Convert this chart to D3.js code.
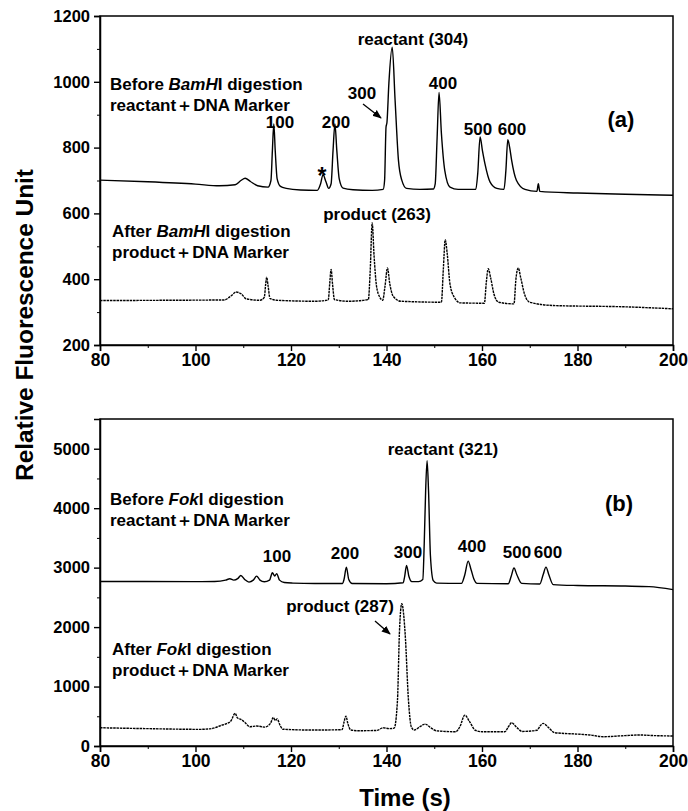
<!DOCTYPE html>
<html>
<head>
<meta charset="utf-8">
<script src="https://cdn.jsdelivr.net/npm/d3@7"></script>
<style>
body { margin: 0; background: #fff; }
svg text { font-family: "Liberation Sans", Arial, sans-serif; font-weight: bold; fill: #000; }
</style>
</head>
<body>
<div id="plot"></div>
<script>
// ticks
var xTicks = [80, 100, 120, 140, 160, 180, 200];
var xMinor = [90, 110, 130, 150, 170, 190];
var yTicksA = [200, 400, 600, 800, 1000, 1200];
var yMinorA = [300, 500, 700, 900, 1100];
var yTicksB = [0, 1000, 2000, 3000, 4000, 5000];
var yMinorB = [500, 1500, 2500, 3500, 4500];

// electropherograms, [time (s), fluorescence]
var beforeBamHI = [[80,701],[90,696],[100,689],[105,684],[108.3,687],[109.5,700],[110.4,707],[111.5,697],[113,684],[115.2,680],[115.8,700],[116.1,790],[116.4,872],[116.7,790],[117.1,705],[117.8,682],[119,676],[122,671],[125.5,670],[126.2,690],[126.7,718],[127.3,697],[127.9,676],[128.4,690],[128.8,790],[129.2,872],[129.6,790],[130.1,705],[130.9,677],[133,672],[137,670],[139.3,673],[139.6,700],[139.9,862],[140.1,877],[140.5,996],[141.2,1105],[141.8,944],[142.5,762],[143.2,701],[144.2,676],[147,673],[149.8,674],[150.2,690],[150.6,830],[151,968],[151.5,843],[152.2,731],[153.3,680],[155,673],[158.7,673],[159.1,720],[159.6,832],[160.1,790],[160.6,752],[161.7,695],[163.1,676],[164.6,673],[165,730],[165.4,824],[165.8,800],[166.2,762],[167.2,701],[169,673],[171.5,667],[171.8,690],[172.1,667],[180,662],[190,658],[200,655]];

var afterBamHI = [[80,335],[95,336],[106,337],[107.5,350],[108.5,361],[109.5,356],[110.7,340],[113.5,336],[114.4,345],[114.7,385],[114.9,406],[115.2,380],[115.6,342],[117,336],[125,333],[127.8,337],[128.1,385],[128.4,430],[128.7,385],[129.1,338],[132,333],[136.2,338],[136.6,430],[137,571],[137.4,470],[137.9,380],[138.6,345],[139.2,336],[139.7,380],[140.2,434],[140.7,385],[141.4,348],[143,333],[151.5,330],[151.9,430],[152.3,520],[152.7,480],[153.3,385],[154.2,345],[155.5,328],[160.5,327],[160.9,390],[161.3,432],[161.8,405],[162.5,355],[163.5,330],[166.7,325],[167.1,400],[167.6,434],[168.1,405],[168.9,355],[170,330],[175,320],[190,316],[200,310]];

var beforeFokI = [[80,2768],[100,2765],[104,2768],[106.3,2790],[107.2,2813],[108,2790],[108.9,2820],[109.5,2869],[110.3,2800],[111.2,2757],[112.1,2790],[112.8,2857],[113.5,2790],[114.4,2762],[115.5,2790],[116.1,2914],[116.6,2860],[117,2900],[117.6,2790],[118.6,2750],[120.4,2740],[125,2732],[130.8,2732],[131.1,2800],[131.6,3008],[132.1,2800],[132.8,2733],[140,2730],[143.5,2745],[143.8,2850],[144.2,3037],[144.7,2850],[145.3,2765],[146.7,2765],[147.6,2800],[147.9,3400],[148.2,4300],[148.5,4799],[148.8,4300],[149.2,3200],[149.8,2780],[150.5,2740],[155.7,2735],[156.4,2880],[157.1,3110],[157.7,2970],[158.3,2810],[159,2735],[165.5,2730],[166.1,2850],[166.7,2993],[167.3,2880],[168.3,2735],[172.1,2725],[172.8,2880],[173.4,3008],[174,2880],[174.9,2715],[180,2700],[190,2690],[195,2680],[200,2630]];

var afterFokI = [[80,307],[90,292],[100.9,280],[103.5,295],[105.5,350],[106.5,375],[107.4,420],[108.3,549],[108.8,470],[109.5,448],[110.3,400],[111.4,324],[112.8,336],[114.5,318],[115.7,380],[116.3,481],[116.7,430],[117.1,455],[117.7,350],[118.3,282],[125,268],[130.7,275],[131.1,400],[131.5,503],[131.9,380],[132.5,270],[134,257],[138,262],[139.3,307],[140.5,292],[141.6,300],[142.3,770],[142.7,1895],[143.2,2394],[143.9,1895],[144.6,770],[145.2,320],[145.8,268],[147.1,330],[148.1,369],[149.2,310],[150.5,255],[154.5,240],[155.4,330],[156.4,520],[157.4,410],[158.6,265],[160,240],[164.8,240],[165.5,320],[166.2,391],[167.3,310],[168.4,245],[171.5,265],[172.2,340],[172.8,381],[173.8,320],[175.2,225],[180,200],[182.6,185],[185.4,156],[190,175],[193.1,185],[196,175],[200,168]];

var svg = d3.select("div#plot")
  .append("svg")
  .attr("width", 688)
  .attr("height", 811);

var x = d3.scaleLinear().domain([80, 200]).range([100, 673]);
var yA = d3.scaleLinear().domain([200, 1200]).range([345, 16]);
var yB = d3.scaleLinear().domain([0, 5500]).range([746, 419]);

svg.append("defs").append("marker")
  .attr("id", "arrow")
  .attr("viewBox", "0 0 10 10")
  .attr("refX", 9).attr("refY", 5)
  .attr("markerWidth", 7).attr("markerHeight", 7)
  .attr("orient", "auto")
  .append("path")
  .attr("d", "M0,1 L10,5 L0,9 Z")
  .attr("fill", "#000");

function styleAxis(g) {
  g.select(".domain").attr("stroke-width", 1.5);
  g.selectAll(".tick line").attr("stroke-width", 1.4);
  g.selectAll(".tick text").style("font-size", "16.5px");
}

function drawPanel(y, majors, minors) {
  var bottom = y.range()[0], top = y.range()[1];

  svg.append("g")
    .attr("transform", `translate(0, ${bottom})`)
    .call(d3.axisBottom(x).tickValues(xTicks).tickSize(6).tickPadding(3).tickFormat(d3.format("d")))
    .call(styleAxis)
    .call(g => g.selectAll(".tick text").style("font-size", "17.5px"));
  svg.append("g")
    .attr("transform", `translate(0, ${bottom})`)
    .call(d3.axisBottom(x).tickValues(xMinor).tickSize(3).tickFormat(""))
    .call(g => g.select(".domain").remove());

  svg.append("g")
    .attr("transform", "translate(100, 0)")
    .call(d3.axisLeft(y).tickValues(majors).tickSize(6).tickPadding(4).tickFormat(d3.format("d")))
    .call(styleAxis);
  svg.append("g")
    .attr("transform", "translate(100, 0)")
    .call(d3.axisLeft(y).tickValues(minors).tickSize(3).tickFormat(""))
    .call(g => g.select(".domain").remove());

  // frame
  svg.append("rect")
    .attr("x", 100).attr("y", top)
    .attr("width", 573).attr("height", bottom - top)
    .attr("fill", "none")
    .attr("stroke", "#000")
    .attr("stroke-width", 1.5);
}

function drawTrace(data, y, dotted) {
  var line = d3.line()
    .x(d => x(d[0]))
    .y(d => y(d[1]))
    .curve(d3.curveMonotoneX);
  svg.append("path")
    .datum(data)
    .attr("fill", "none")
    .attr("stroke", "#000")
    .attr("stroke-width", 1.4)
    .attr("stroke-dasharray", dotted ? "2.5,0.8" : null)
    .attr("d", line);
}

// text with optional italic parts
function note(px, py, parts, size, anchor) {
  var t = svg.append("text")
    .attr("x", px).attr("y", py)
    .attr("text-anchor", anchor || "start")
    .style("font-size", size + "px");
  parts.forEach(function(p) {
    t.append("tspan")
      .attr("font-style", p[1] ? "italic" : null)
      .text(p[0]);
  });
  return t;
}

function arrow(x1, y1, x2, y2) {
  svg.append("line")
    .attr("x1", x1).attr("y1", y1)
    .attr("x2", x2).attr("y2", y2)
    .attr("stroke", "#000")
    .attr("stroke-width", 1.3)
    .attr("marker-end", "url(#arrow)");
}

drawPanel(yA, yTicksA, yMinorA);
drawPanel(yB, yTicksB, yMinorB);

drawTrace(beforeBamHI, yA, false);
drawTrace(afterBamHI, yA, true);
drawTrace(beforeFokI, yB, false);
drawTrace(afterFokI, yB, true);

// panel (a) notes
note(110, 90, [["Before "], ["BamH", true], ["I digestion"]], 17);
note(110, 111, [["reactant＋DNA  Marker"]], 17);
note(280, 128, [["100"]], 17, "middle");
note(336, 128, [["200"]], 17, "middle");
note(322, 184, [["*"]], 23, "middle");
note(413, 45, [["reactant  (304)"]], 17, "middle");
note(362, 99, [["300"]], 17, "middle");
arrow(363, 104, 381, 118);
note(443, 89, [["400"]], 17, "middle");
note(478, 135, [["500"]], 17, "middle");
note(512, 135, [["600"]], 17, "middle");
note(621, 127, [["(a)"]], 22, "middle");
note(112, 237, [["After "], ["BamH", true], ["I digestion"]], 17);
note(112, 258, [["product＋DNA  Marker"]], 17);
note(377, 220, [["product (263)"]], 17, "middle");

// panel (b) notes
note(110, 505, [["Before "], ["Fok", true], ["I digestion"]], 17);
note(110, 526, [["reactant＋DNA  Marker"]], 17);
note(277, 562, [["100"]], 17, "middle");
note(345, 559, [["200"]], 17, "middle");
note(408, 558, [["300"]], 17, "middle");
note(443, 455, [["reactant (321)"]], 17, "middle");
note(472, 552, [["400"]], 17, "middle");
note(517, 558, [["500"]], 17, "middle");
note(548, 558, [["600"]], 17, "middle");
note(619, 511, [["(b)"]], 22, "middle");
note(340, 612, [["product  (287)"]], 17, "middle");
arrow(375, 621, 390, 634);
note(112, 655, [["After "], ["Fok", true], ["I digestion"]], 17);
note(112, 676, [["product＋DNA  Marker"]], 17);

// axis titles
svg.append("text")
  .attr("transform", "translate(33, 325) rotate(-90)")
  .attr("text-anchor", "middle")
  .attr("textLength", 312)
  .attr("lengthAdjust", "spacingAndGlyphs")
  .style("font-size", "23px")
  .text("Relative Fluorescence Unit");

svg.append("text")
  .attr("x", 405)
  .attr("y", 806)
  .attr("text-anchor", "middle")
  .style("font-size", "24px")
  .text("Time (s)");
</script>
</body>
</html>
